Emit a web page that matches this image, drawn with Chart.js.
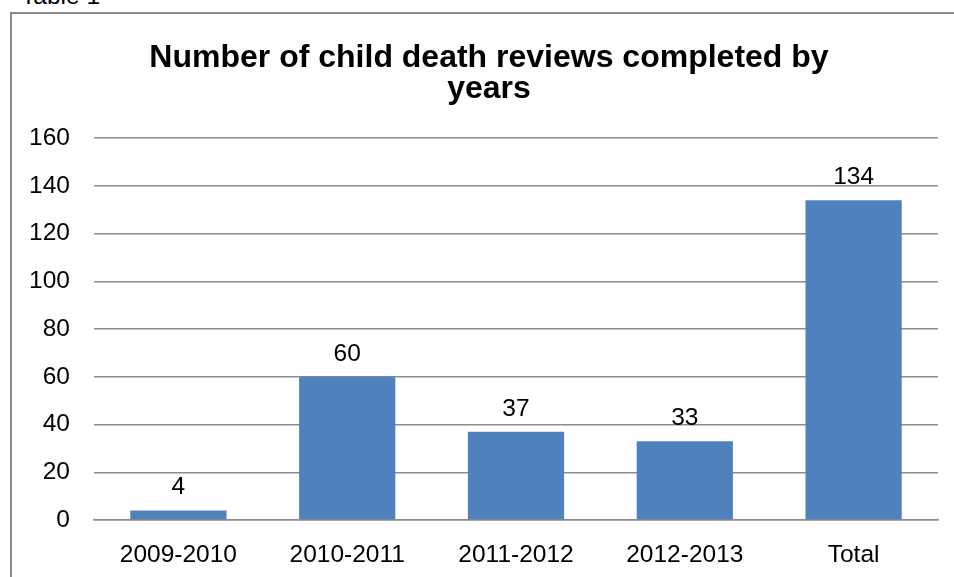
<!DOCTYPE html>
<html>
<head>
<meta charset="utf-8">
<script src="https://cdn.jsdelivr.net/npm/chart.js@4/dist/chart.umd.min.js"></script>
<style>
  html, body { margin: 0; padding: 0; background: #fff; overflow: hidden; }
  #wrap { position: relative; width: 954px; height: 577px; }
  #cap { position: absolute; left: 21px; top: -18px; font: 24.5px "Liberation Sans", Arial, sans-serif; line-height: 28px; color: #000; }
  #frame { position: absolute; left: 10px; top: 12px; width: 960px; height: 580px; border: 2px solid #8c8c8c; box-sizing: border-box; }
  #c { position: absolute; left: 0; top: 0; }
</style>
</head>
<body>
<div id="wrap">
  <div id="cap">Table 1</div>
  <div id="frame"></div>
  <canvas id="c" width="954" height="577"></canvas>
</div>
<script>
const categories = ["2009-2010", "2010-2011", "2011-2012", "2012-2013", "Total"];
const reviews = [4, 60, 37, 33, 134];
const yTicks = [0, 20, 40, 60, 80, 100, 120, 140, 160];
const titleLines = ["Number of child death reviews completed by", "years"];

const FONT = '"Liberation Sans", Arial, sans-serif';

const valueLabels = {
  id: 'valueLabels',
  afterDatasetsDraw(chart) {
    const ctx = chart.ctx;
    const meta = chart.getDatasetMeta(0);
    ctx.save();
    ctx.font = '24.5px ' + FONT;
    ctx.fillStyle = '#000';
    ctx.textAlign = 'center';
    ctx.textBaseline = 'alphabetic';
    meta.data.forEach((bar, i) => {
      ctx.fillText(String(chart.data.datasets[0].data[i]), bar.x, bar.y - 16);
    });
    ctx.restore();
  }
};

const titleShift = {
  id: 'titleShift',
  afterLayout(chart) {
    if (chart.titleBlock) {
      chart.titleBlock.left = 40;
      chart.titleBlock.width = chart.titleBlock.right - 40;
    }
  }
};

new Chart(document.getElementById('c'), {
  type: 'bar',
  data: {
    labels: categories,
    datasets: [{
      data: reviews,
      backgroundColor: '#4F81BD',
      borderWidth: 0,
      categoryPercentage: 1,
      barPercentage: 0.57
    }]
  },
  options: {
    responsive: false,
    animation: false,
    devicePixelRatio: 1,
    layout: { padding: { left: 0, right: 16, top: 0, bottom: 0 } },
    plugins: {
      legend: { display: false },
      tooltip: { enabled: false },
      title: {
        display: true,
        text: titleLines,
        color: '#000',
        font: { family: FONT, size: 32, weight: 'bold', lineHeight: 0.97 },
        padding: { top: 42.5, bottom: 33.5 }
      }
    },
    scales: {
      x: {
        grid: { display: false, drawTicks: false },
        border: { display: true, color: '#8c8c8c', width: 1.5 },
        ticks: { color: '#000', font: { family: FONT, size: 24.5 }, padding: 21, maxRotation: 0 },
        afterFit(scale) { scale.height = 57; }
      },
      y: {
        min: yTicks[0],
        max: yTicks[yTicks.length - 1],
        afterBuildTicks(scale) { scale.ticks = yTicks.map(v => ({ value: v })); },
        ticks: { color: '#000', font: { family: FONT, size: 24.5 }, padding: 24 },
        grid: { color: '#8c8c8c', lineWidth: 1.5, drawTicks: false },
        border: { display: false },
        afterFit(scale) { scale.width = 94; }
      }
    }
  },
  plugins: [valueLabels, titleShift]
});
</script>
</body>
</html>
